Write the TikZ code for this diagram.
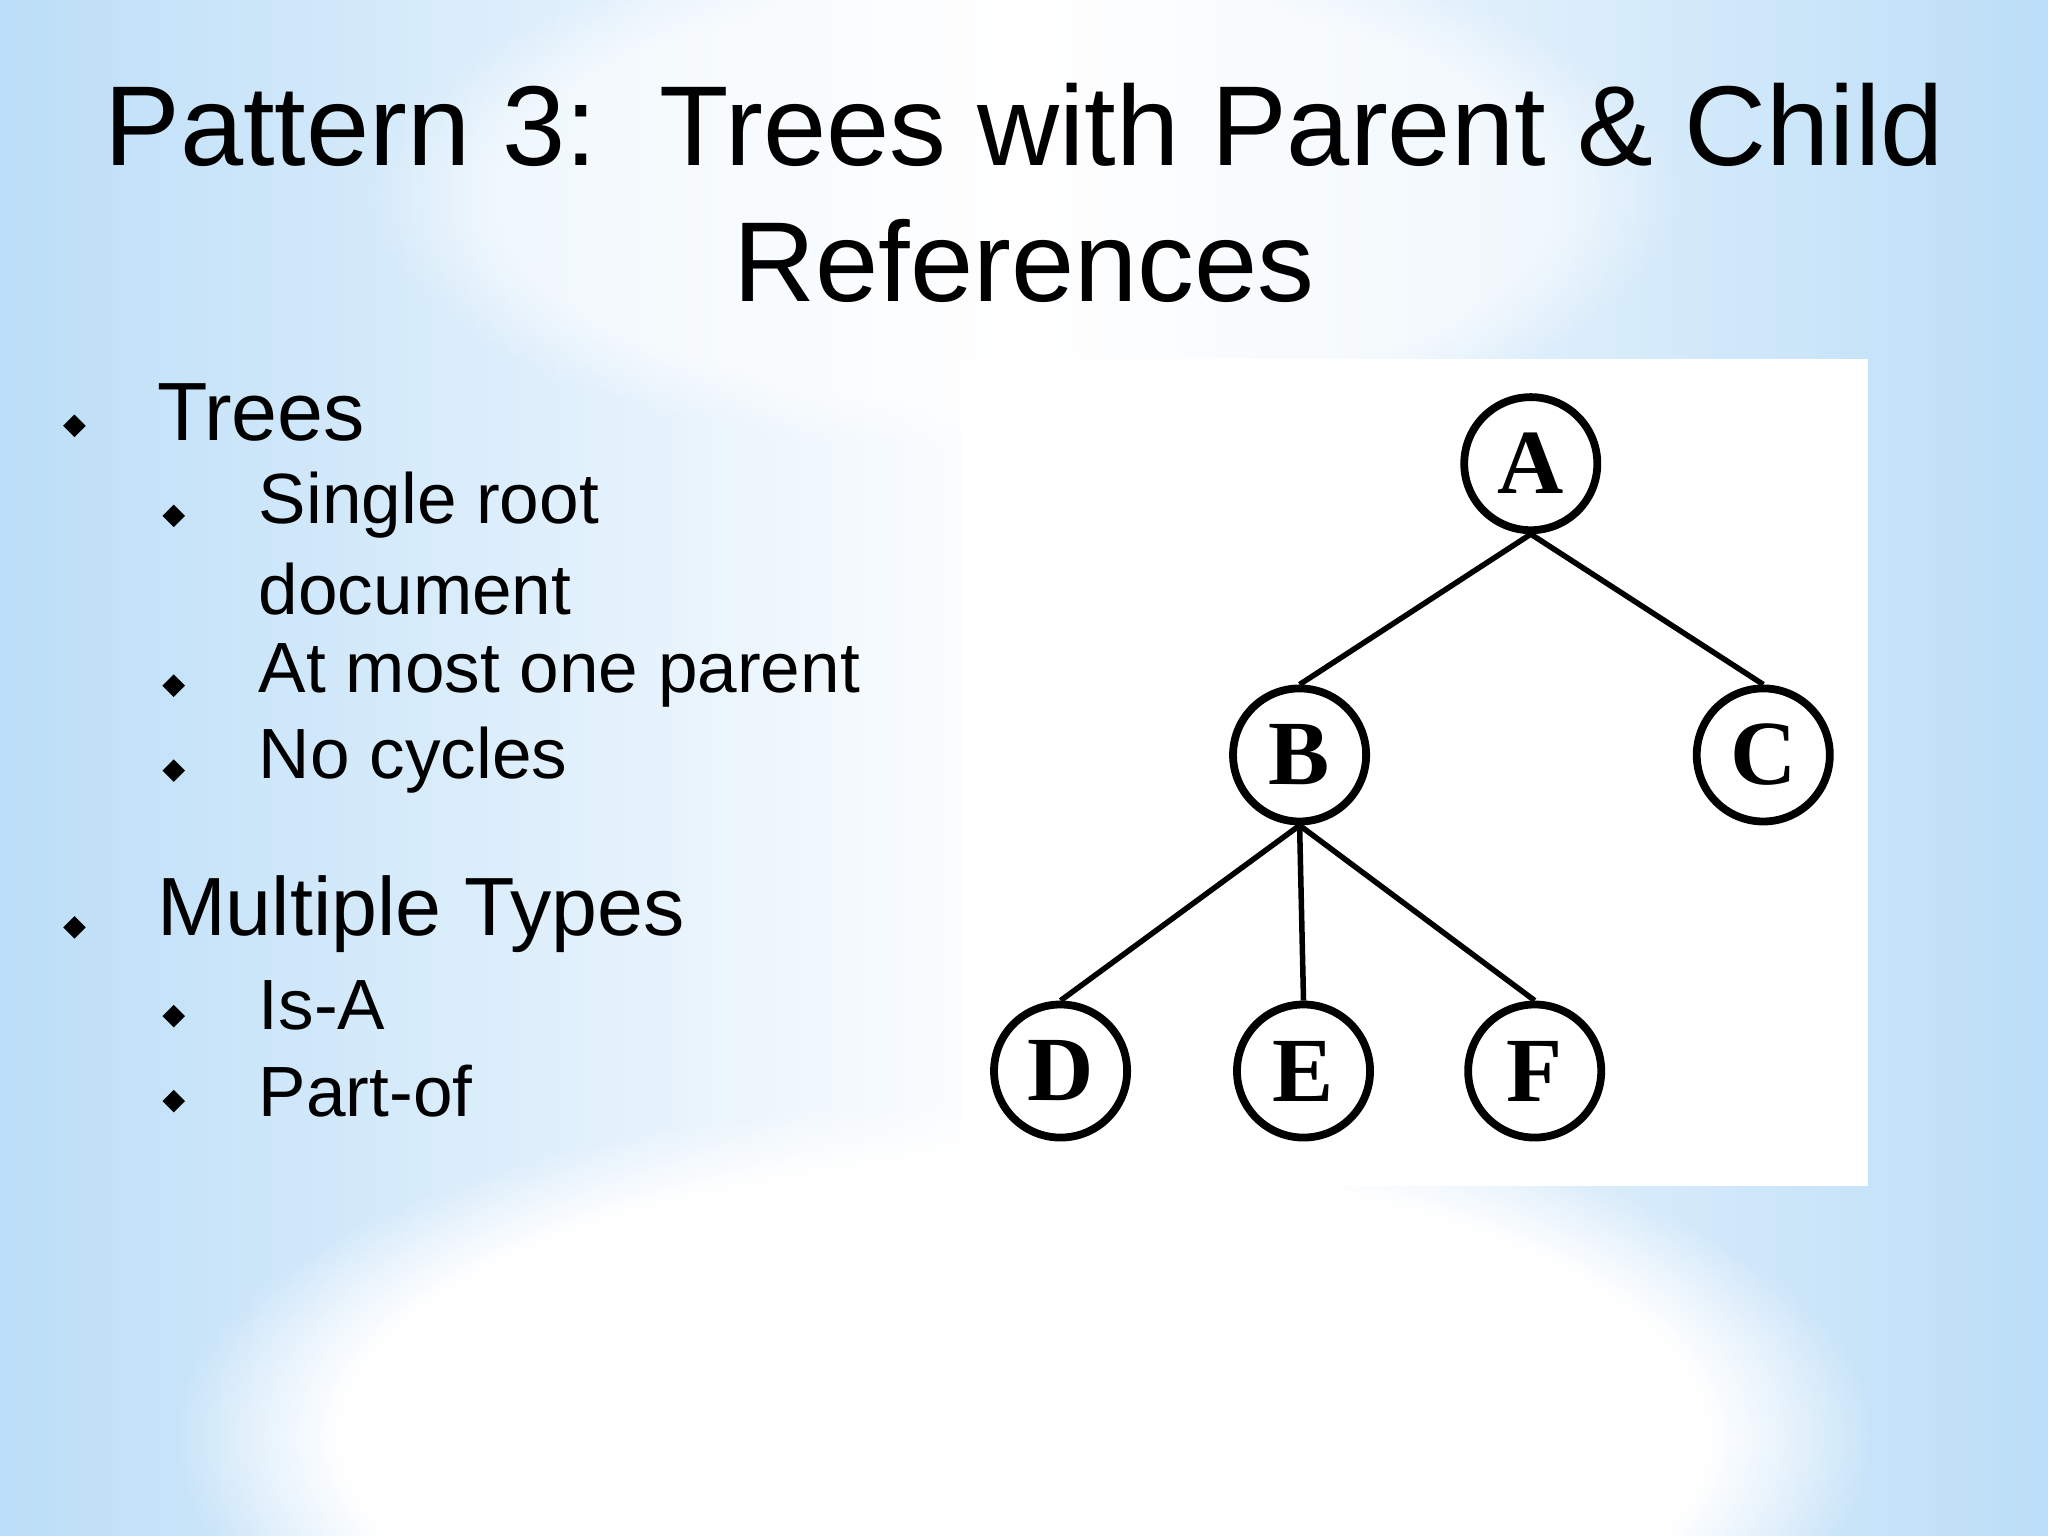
\documentclass[tikz,border=0pt]{standalone}
\usepackage{fontspec}
\setmainfont{Liberation Sans}
\newfontfamily\treefont{Liberation Serif}
\usetikzlibrary{shapes.geometric,fadings}
\begin{document}
\begin{tikzpicture}[x=0.02cm,y=-0.02cm,
  tnode/.style={circle,draw,line width=3.4pt,minimum size=58pt,inner sep=0pt,font=\treefont\bfseries\fontsize{40}{40}\selectfont},
  edge/.style={line width=2.4pt},
  bul/.style={diamond,fill=black,inner sep=0pt,minimum size=10pt},
  lone/.style={anchor=west,font=\fontsize{36}{40}\selectfont},
  ltwo/.style={anchor=west,font=\fontsize{31}{34}\selectfont}]
\useasboundingbox (0,0) rectangle (1568,1176);
\definecolor{bgblue}{HTML}{9FD0F5}
\shade[left color=bgblue,right color=bgblue,middle color=white] (0,0) rectangle (1568,1176);
\fill[white,opacity=0.3] (0,0) rectangle (1568,1176);
\fill[white,path fading=circle with fuzzy edge 20 percent] (784,1100) ellipse (650 and 260);
\fill[white,path fading=circle with fuzzy edge 20 percent,opacity=0.6] (784,150) ellipse (500 and 200);
\node (t1) at (784,96) {\fontsize{49.5}{56}\selectfont Pattern 3:\ \ Trees with Parent \& Child};
\node (t2) at (784,200) {\fontsize{49.5}{56}\selectfont References};
% bullets
\node[bul] (b1) at (57,326) {}; \node[lone] (l1) at (114,316) {Trees};
\node[bul] (b2) at (133,395) {}; \node[ltwo] (l2) at (192,387) {Single root};
\node[ltwo] (l3) at (192,451) {document};
\node[bul] (b4) at (133,525) {}; \node[ltwo] (l4) at (192,517) {At most one parent};
\node[bul] (b5) at (133,590) {}; \node[ltwo] (l5) at (192,582) {No cycles};
\node[bul] (b6) at (57,710) {}; \node[lone] (l6) at (114,700) {Multiple Types};
\node[bul] (b7) at (133,778) {}; \node[ltwo] (l7) at (192,770) {Is-A};
\node[bul] (b8) at (133,843) {}; \node[ltwo] (l8) at (192,835) {Part-of};
% tree
\fill[white] (736,275) rectangle (1430,908);
\node[tnode] (A) at (1172,355) {A};
\node[tnode] (B) at (995,578) {B};
\node[tnode] (C) at (1350,578) {C};
\node[tnode] (D) at (812,820) {D};
\node[tnode] (E) at (998,820) {E};
\node[tnode] (F) at (1175,820) {F};
\draw[edge] (A.south) -- (B.north); \draw[edge] (A.south) -- (C.north);
\draw[edge] (B.south) -- (D.north); \draw[edge] (B.south) -- (E.north); \draw[edge] (B.south) -- (F.north);
\end{tikzpicture}
\end{document}
